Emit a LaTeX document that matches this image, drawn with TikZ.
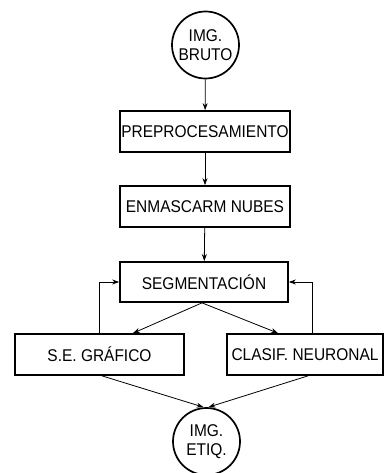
\documentclass[tikz,border=0pt]{standalone}
\usepackage{fontspec}
\setmainfont{Liberation Sans}[FakeStretch=0.91]
\usetikzlibrary{arrows.meta}
\begin{document}
\begin{tikzpicture}[x=1pt,y=-1pt,
  box/.style={draw, line width=1.7pt, minimum height=41pt, inner sep=0pt, font=\fontsize{17}{19.5}\selectfont},
  circ/.style={draw, circle, line width=1.7pt, inner sep=0pt, align=center, font=\fontsize{17}{19.5}\selectfont},
  conn/.style={line width=0.8pt, -{Stealth[length=7pt,width=5pt]}}]
\useasboundingbox (0,0) rectangle (384,473);
\node[circ, minimum size=67pt] (bruto) at (205.5,45) {IMG.\\BRUTO};
\node[box, minimum width=170pt] (pre) at (205,131.5) {PREPROCESAMIENTO};
\node[box, minimum width=170pt] (enm) at (205,206.5) {ENMASCARM NUBES};
\node[box, minimum width=168pt, minimum height=40pt] (seg) at (204,282) {SEGMENTACIÓN};
\node[box, minimum width=169pt] (se) at (99.5,354.5) {S.E. GRÁFICO};
\node[box, minimum width=156pt] (cl) at (305,354.5) {CLASIF. NEURONAL};
\node[circ, minimum size=67pt] (etiq) at (206.5,441.5) {IMG.\\ETIQ.};
\draw[conn] (bruto) -- (pre);
\draw[conn] (pre) -- (enm);
\draw[conn] (enm) -- (seg);
\draw[conn] ([xshift=-2pt]seg.south) -- ([xshift=33.5pt]se.north);
\draw[conn] ([xshift=-2pt]seg.south) -- ([xshift=-27pt]cl.north);
\draw[conn] (se.north) |- (seg.west);
\draw[conn] ([xshift=7pt]cl.north) |- (seg.east);
\draw[conn] ([xshift=2.5pt]se.south) -- ([xshift=-3pt]etiq.north);
\draw[conn] ([xshift=3pt]cl.south) -- ([xshift=2pt]etiq.north);
\end{tikzpicture}
\end{document}
